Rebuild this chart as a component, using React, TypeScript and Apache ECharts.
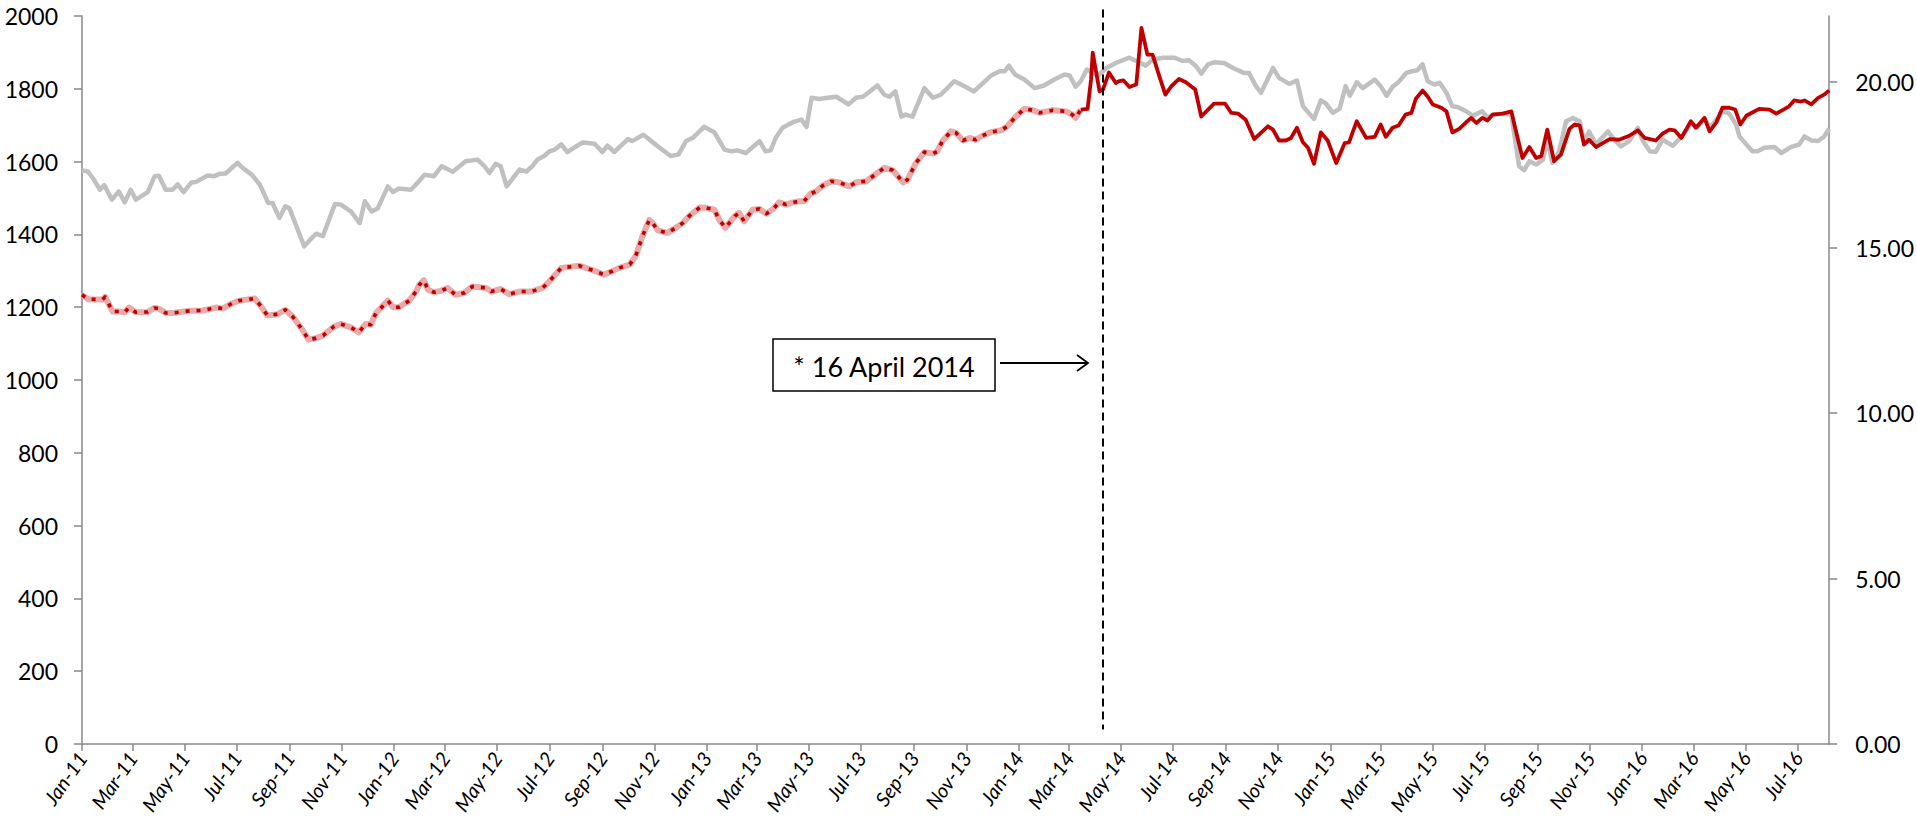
import React, { useEffect, useRef } from "react";
import * as echarts from "echarts";

// ---- axis scaffold: one category per day, 1 Jan 2011 .. 7 Aug 2016 ----
const START_UTC = Date.UTC(2011, 0, 1);
const DAY_COUNT = 2046;
const MONTHS = ["Jan", "Feb", "Mar", "Apr", "May", "Jun", "Jul", "Aug", "Sep", "Oct", "Nov", "Dec"];
const dates: string[] = [];
for (let i = 0; i < DAY_COUNT; i++) {
  dates.push(new Date(START_UTC + i * 86400000).toISOString().slice(0, 10));
}

// left axis ticks
const LEFT_MIN = 0;
const LEFT_MAX = 2000;
const LEFT_STEP = 200;
// right axis ticks
const RIGHT_MIN = 0;
const RIGHT_MAX = 22;
const RIGHT_TICKS = [0, 5, 10, 15, 20];

// event marker
const EVENT_DAY = 1195; // position of the dashed line
const EVENT_LABEL = "* 16 April 2014";

// ---- red series (left axis): day offset from 1 Jan 2011, value ----
const redDays = [
  0, 7, 24, 27, 36, 44, 50, 55, 63, 77, 85, 90, 98, 106, 126, 141, 157, 165, 176, 184,
  202, 209, 217, 229, 238, 247, 258, 265, 274, 282, 295, 303, 315, 324, 332, 338, 344, 350, 358, 364,
  371, 383, 391, 395, 400, 405, 412, 420, 428, 437, 447, 457, 473, 479, 490, 500, 512, 526, 539, 545,
  561, 582, 602, 611, 629, 641, 648, 656, 664, 668, 674, 685, 695, 703, 711, 723, 730, 740, 746, 753,
  764, 769, 775, 785, 793, 801, 809, 816, 824, 832, 840, 845, 853, 859, 867, 877, 886, 898, 906, 918,
  923, 931, 939, 949, 955, 961, 966, 976, 986, 996, 1001, 1007, 1017, 1023, 1031, 1039, 1046, 1054, 1064, 1076,
  1083, 1093, 1103, 1113, 1121, 1136, 1152, 1159, 1163, 1169, 1177, 1181, 1183, 1191, 1195, 1202, 1210, 1214, 1219, 1226,
  1234, 1240, 1247, 1253, 1261, 1268, 1275, 1284, 1292, 1303, 1310, 1318, 1325, 1338, 1345, 1353, 1362, 1372, 1388, 1394,
  1401, 1409, 1415, 1422, 1429, 1435, 1442, 1450, 1458, 1468, 1478, 1483, 1492, 1503, 1513, 1520, 1526, 1534, 1541, 1549,
  1556, 1561, 1569, 1575, 1581, 1591, 1597, 1604, 1612, 1620, 1626, 1632, 1639, 1645, 1651, 1663, 1673, 1677, 1686, 1694,
  1702, 1708, 1715, 1723, 1731, 1741, 1747, 1753, 1758, 1764, 1772, 1788, 1799, 1811, 1821, 1829, 1842, 1850, 1858, 1864,
  1872, 1883, 1889, 1899, 1905, 1913, 1920, 1928, 1935, 1941, 1948, 1955, 1963, 1975, 1983, 1993, 1998, 2004, 2012, 2016,
  2024, 2032, 2039, 2045,
];
const redValues = [
  1234, 1222, 1221, 1228, 1188, 1188, 1186, 1199, 1186, 1187, 1198, 1196, 1184, 1184, 1190, 1191, 1199, 1196, 1211, 1218,
  1224, 1204, 1177, 1181, 1193, 1173, 1138, 1111, 1115, 1122, 1147, 1154, 1144, 1131, 1154, 1152, 1184, 1198, 1218, 1200,
  1200, 1218, 1243, 1262, 1274, 1248, 1241, 1245, 1253, 1234, 1239, 1257, 1253, 1243, 1250, 1236, 1243, 1243, 1253, 1266,
  1308, 1314, 1298, 1289, 1308, 1317, 1340, 1395, 1440, 1431, 1411, 1404, 1418, 1431, 1451, 1474, 1473, 1468, 1440, 1418,
  1450, 1459, 1436, 1468, 1470, 1457, 1470, 1488, 1482, 1488, 1491, 1491, 1512, 1518, 1534, 1546, 1543, 1532, 1543, 1546,
  1555, 1569, 1583, 1576, 1560, 1543, 1550, 1596, 1626, 1622, 1628, 1656, 1683, 1679, 1658, 1665, 1660, 1671, 1681, 1686,
  1697, 1724, 1745, 1741, 1734, 1741, 1738, 1729, 1720, 1743, 1745, 1825, 1899, 1793, 1798, 1845, 1816, 1821, 1823, 1805,
  1812, 1967, 1894, 1894, 1834, 1784, 1807, 1827, 1818, 1798, 1724, 1743, 1759, 1759, 1734, 1732, 1715, 1662, 1697, 1688,
  1658, 1658, 1665, 1693, 1653, 1638, 1594, 1680, 1658, 1596, 1651, 1653, 1711, 1665, 1668, 1702, 1668, 1693, 1699, 1729,
  1734, 1772, 1795, 1779, 1757, 1748, 1738, 1680, 1690, 1708, 1720, 1706, 1720, 1713, 1729, 1732, 1738, 1697, 1610, 1640,
  1610, 1615, 1688, 1601, 1619, 1690, 1702, 1699, 1647, 1660, 1640, 1662, 1660, 1671, 1686, 1665, 1658, 1677, 1688, 1686,
  1665, 1711, 1693, 1720, 1683, 1708, 1748, 1748, 1743, 1702, 1726, 1735, 1745, 1743, 1732, 1745, 1752, 1768, 1765, 1768,
  1757, 1775, 1784, 1795,
];
// up to this day the red line is drawn dashed over a pink band
const PINK_LAST_DAY = 1169;

// ---- grey series (right axis) ----
const greyDays = [
  0, 7, 14, 21, 26, 35, 43, 50, 57, 63, 77, 85, 90, 98, 106, 112, 119, 128, 133, 147,
  155, 161, 168, 182, 188, 199, 208, 218, 223, 231, 238, 243, 260, 266, 274, 282, 296, 303, 315, 325,
  331, 339, 346, 358, 364, 371, 385, 393, 401, 412, 421, 434, 449, 463, 471, 477, 484, 490, 497, 512,
  520, 527, 533, 541, 547, 553, 561, 568, 586, 600, 609, 615, 623, 639, 644, 657, 674, 689, 698, 707,
  715, 728, 740, 752, 760, 767, 777, 793, 800, 806, 812, 820, 832, 842, 848, 854, 863, 873, 883, 897,
  906, 914, 922, 931, 939, 945, 952, 959, 964, 972, 986, 996, 1005, 1021, 1029, 1044, 1064, 1074, 1080, 1085,
  1092, 1103, 1115, 1126, 1138, 1150, 1156, 1163, 1169, 1176, 1189, 1199, 1210, 1226, 1234, 1245, 1253, 1265, 1279, 1288,
  1296, 1304, 1310, 1318, 1325, 1337, 1347, 1360, 1366, 1374, 1380, 1394, 1401, 1413, 1422, 1429, 1442, 1450, 1456, 1464,
  1472, 1479, 1484, 1492, 1499, 1513, 1520, 1527, 1534, 1540, 1550, 1557, 1563, 1569, 1575, 1583, 1589, 1597, 1604, 1610,
  1620, 1628, 1639, 1645, 1651, 1663, 1673, 1678, 1682, 1688, 1694, 1702, 1710, 1715, 1721, 1729, 1737, 1745, 1753, 1758,
  1764, 1772, 1786, 1795, 1801, 1811, 1821, 1827, 1835, 1842, 1850, 1862, 1873, 1883, 1891, 1899, 1905, 1913, 1920, 1928,
  1936, 1940, 1948, 1955, 1961, 1969, 1981, 1989, 2000, 2010, 2016, 2024, 2032, 2039, 2045,
];
const greyValues = [
  17.33, 17.3, 17.05, 16.75, 16.89, 16.45, 16.7, 16.37, 16.75, 16.45, 16.68, 17.16, 17.17, 16.75, 16.75, 16.91, 16.68, 16.97, 16.98, 17.18,
  17.16, 17.23, 17.24, 17.56, 17.41, 17.2, 16.91, 16.35, 16.35, 15.9, 16.25, 16.18, 15.04, 15.21, 15.42, 15.35, 16.32, 16.3, 16.09, 15.74,
  16.4, 16.09, 16.18, 16.85, 16.68, 16.79, 16.75, 16.97, 17.2, 17.16, 17.46, 17.29, 17.61, 17.66, 17.46, 17.26, 17.53, 17.46, 16.85, 17.36,
  17.3, 17.46, 17.66, 17.77, 17.91, 17.96, 18.12, 17.89, 18.18, 18.14, 17.89, 18.08, 17.89, 18.28, 18.22, 18.41, 18.06, 17.77, 17.81, 18.22,
  18.32, 18.65, 18.49, 17.96, 17.91, 17.94, 17.86, 18.22, 17.91, 17.94, 18.32, 18.62, 18.79, 18.87, 18.65, 19.53, 19.49, 19.53, 19.56, 19.33,
  19.53, 19.56, 19.72, 19.9, 19.62, 19.56, 19.72, 18.96, 19.02, 18.96, 19.82, 19.53, 19.62, 20.03, 19.93, 19.72, 20.2, 20.33, 20.33, 20.5,
  20.23, 20.08, 19.82, 19.9, 20.08, 20.23, 20.2, 19.86, 20.03, 20.38, 20.2, 20.43, 20.58, 20.74, 20.64, 20.5, 20.68, 20.74, 20.74, 20.64,
  20.66, 20.48, 20.26, 20.54, 20.6, 20.58, 20.43, 20.28, 20.28, 19.88, 19.68, 20.43, 20.13, 19.95, 20.05, 19.27, 18.89, 19.45, 19.35, 19.07,
  19.2, 19.88, 19.59, 20.0, 19.82, 20.08, 19.88, 19.59, 19.86, 19.98, 20.28, 20.33, 20.36, 20.54, 20.03, 19.93, 19.98, 19.68, 19.27, 19.25,
  19.12, 18.99, 19.12, 18.92, 19.02, 19.05, 19.02, 18.16, 17.46, 17.34, 17.61, 17.51, 17.66, 18.26, 17.56, 17.91, 18.82, 18.92, 18.82, 18.22,
  18.51, 18.12, 18.51, 18.22, 18.06, 18.22, 18.62, 18.22, 17.91, 17.89, 18.26, 18.08, 18.38, 18.74, 18.65, 18.92, 18.62, 18.87, 19.12, 19.05,
  18.72, 18.36, 18.12, 17.91, 17.91, 18.02, 18.04, 17.86, 18.04, 18.12, 18.36, 18.24, 18.22, 18.36, 18.59,
];

const FONT = "Lato, 'Open Sans', 'Liberation Sans', sans-serif";

const isTickDay = (v: string) => v.slice(8) === "01" && parseInt(v.slice(5, 7), 10) % 2 === 1;
const fmtMonth = (v: string) => `${MONTHS[parseInt(v.slice(5, 7), 10) - 1]}-${v.slice(2, 4)}`;

export default function App() {
  const ref = useRef<HTMLDivElement>(null);

  useEffect(() => {
    if (!ref.current) return;
    const chart = echarts.init(ref.current, null, { renderer: "svg" });

    const redAll = redDays.map((d, i) => [d, redValues[i]]);
    const redEarly = redAll.filter((p) => p[0] <= PINK_LAST_DAY);
    const redLate = redAll.filter((p) => p[0] >= PINK_LAST_DAY);
    const grey = greyDays.map((d, i) => [d, greyValues[i]]);

    const axisGrey = "#898989";

    chart.setOption({
      animation: false,
      backgroundColor: "#ffffff",
      grid: { left: 82, right: 87, top: 16, bottom: 77, containLabel: false },
      xAxis: {
        type: "category",
        data: dates,
        boundaryGap: false,
        axisLine: { show: true, lineStyle: { color: axisGrey, width: 1.5 } },
        axisTick: { show: true, interval: (_i: number, v: string) => isTickDay(v), length: 7, lineStyle: { color: axisGrey, width: 1.5 } },
        axisLabel: {
          interval: (_i: number, v: string) => isTickDay(v),
          formatter: (v: string) => fmtMonth(v),
          rotate: 55,
          margin: 10,
          fontFamily: FONT,
          fontStyle: "italic",
          fontSize: 20,
          color: "#000",
        },
        splitLine: { show: false },
      },
      yAxis: [
        {
          type: "value",
          min: LEFT_MIN,
          max: LEFT_MAX,
          interval: LEFT_STEP,
          position: "left",
          axisLine: { show: true, lineStyle: { color: axisGrey, width: 1.5 } },
          axisTick: { show: true, length: 8, lineStyle: { color: axisGrey, width: 1.5 } },
          axisLabel: {
            margin: 24,
            fontFamily: FONT,
            fontSize: 23,
            color: "#000",
            formatter: (v: number) => String(v),
          },
          splitLine: { show: false },
        },
        {
          type: "value",
          min: RIGHT_MIN,
          max: RIGHT_MAX,
          position: "right",
          axisLine: { show: true, lineStyle: { color: axisGrey, width: 1.5 } },
          axisTick: { show: true, length: 8, customValues: RIGHT_TICKS, lineStyle: { color: axisGrey, width: 1.5 } },
          axisLabel: {
            customValues: RIGHT_TICKS,
            margin: 26,
            fontFamily: FONT,
            fontSize: 23,
            color: "#000",
            formatter: (v: number) => v.toFixed(2),
          },
          splitLine: { show: false },
        },
      ],
      series: [
        {
          name: "grey",
          type: "line",
          yAxisIndex: 1,
          data: grey,
          showSymbol: false,
          symbol: "none",
          lineStyle: { color: "#C0C0C0", width: 4.5, join: "round" },
          z: 1,
        },
        {
          name: "pink",
          type: "line",
          yAxisIndex: 0,
          data: redEarly,
          showSymbol: false,
          symbol: "none",
          lineStyle: { color: "#E9AAAA", width: 6, join: "round" },
          z: 2,
        },
        {
          name: "red-dashed",
          type: "line",
          yAxisIndex: 0,
          data: redEarly,
          showSymbol: false,
          symbol: "none",
          lineStyle: { color: "#C00000", width: 3.6, type: [4, 7], join: "round" },
          z: 3,
        },
        {
          name: "red",
          type: "line",
          yAxisIndex: 0,
          data: redLate,
          showSymbol: false,
          symbol: "none",
          lineStyle: { color: "#C00000", width: 3.8, join: "round" },
          z: 3,
        },
      ],
    });

    const ex = chart.convertToPixel({ xAxisIndex: 0 }, dates[EVENT_DAY]) as number;
    const yTop = chart.convertToPixel({ yAxisIndex: 0 }, 2018) as number;
    const yBot = chart.convertToPixel({ yAxisIndex: 0 }, 40) as number;

    chart.setOption({
      graphic: [
        {
          type: "line",
          shape: { x1: ex, y1: yTop, x2: ex, y2: yBot },
          style: { stroke: "#000", lineWidth: 2, lineDash: [8, 5] },
          z: 10,
        },
        {
          type: "rect",
          shape: { x: 773, y: 339, width: 222, height: 52 },
          style: { fill: "#fff", stroke: "#000", lineWidth: 1.5 },
          z: 10,
        },
        {
          type: "text",
          x: 884,
          y: 366,
          style: {
            text: EVENT_LABEL,
            fill: "#000",
            font: `27px ${FONT}`,
            align: "center",
            verticalAlign: "middle",
          },
          z: 11,
        },
        {
          type: "line",
          shape: { x1: 1000, y1: 363, x2: 1088, y2: 363 },
          style: { stroke: "#000", lineWidth: 1.8 },
          z: 10,
        },
        {
          type: "polyline",
          shape: { points: [[1077, 355], [1088, 363], [1077, 371]] },
          style: { stroke: "#000", lineWidth: 1.8, fill: null },
          z: 10,
        },
      ],
    });

    return () => chart.dispose();
  }, []);

  return (
    <div
      ref={ref}
      style={{ position: "fixed", left: 0, top: 0, width: 1917, height: 821, background: "#fff" }}
    />
  );
}
